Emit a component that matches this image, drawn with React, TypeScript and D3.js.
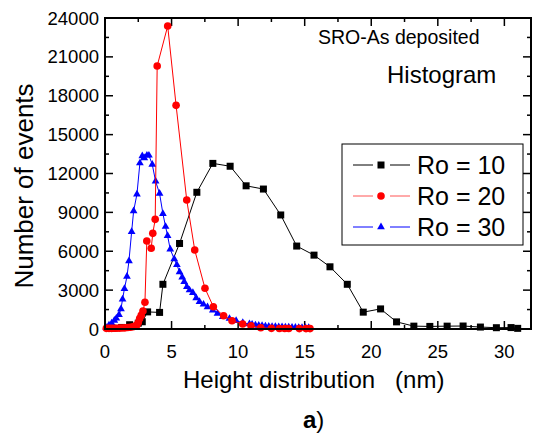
import { line, scaleLinear, symbol, symbolTriangle } from 'd3'

// Ro = 10 (black squares)
const ro10X = [0.6, 1.25, 1.85, 2.5, 2.8, 3.2, 4.1, 4.35, 5.6, 6.9, 8.1, 9.4, 10.6, 11.9, 13.2, 14.4, 15.7, 16.9, 18.2, 19.4, 20.7, 21.9, 23.2, 24.4, 25.7, 26.9, 28.2, 29.4, 30.5, 31.0]
const ro10Y = [60, 120, 330, 450, 560, 1320, 1280, 3450, 6600, 10550, 12780, 12560, 11050, 10800, 8800, 6400, 5700, 4800, 3450, 1300, 1550, 550, 220, 200, 220, 230, 150, 100, 110, 50]

// Ro = 20 (red circles)
const ro20X = [0.1, 0.3, 0.5, 0.7, 0.9, 1.1, 1.3, 1.5, 1.7, 1.9, 2.1, 2.25, 2.4, 2.5, 2.6, 2.72, 2.85, 3.0, 3.14, 3.47, 3.59, 3.77, 3.92, 4.71, 5.34, 6.14, 6.74, 7.51, 8.14, 8.91, 9.54, 10.34, 10.97, 11.7, 12.5, 13.1, 13.5, 13.8, 14.6, 15.1, 15.4]
const ro20Y = [50, 50, 50, 60, 60, 70, 80, 90, 110, 130, 170, 220, 300, 500, 800, 1050, 1380, 2060, 6790, 6230, 7380, 8460, 20300, 23380, 17260, 9950, 6100, 3140, 1720, 1020, 640, 390, 250, 100, 50, 40, 40, 40, 30, 30, 30]

// Ro = 30 (blue triangles)
const ro30X = [0.1, 0.3, 0.5, 0.7, 0.85, 1.05, 1.2, 1.32, 1.46, 1.65, 1.8, 2.0, 2.15, 2.4, 2.62, 2.8, 2.95, 3.15, 3.3, 3.55, 3.8, 4.1, 4.35, 4.55, 4.7, 4.9, 5.2, 5.4, 5.6, 5.8, 5.95, 6.15, 6.35, 6.6, 6.85, 7.1, 7.4, 7.7, 8.1, 8.45, 8.85, 9.35, 9.85, 10.35, 10.85, 11.05, 11.3, 11.55, 11.8, 12.05, 12.3, 12.55, 12.8, 13.05, 13.3, 13.55, 13.8, 14.05, 14.3, 14.55, 14.8, 15.05, 15.3]
const ro30Y = [100, 300, 450, 650, 820, 1100, 1550, 2300, 3100, 4050, 5250, 7500, 9100, 10400, 12800, 13350, 13200, 13400, 13400, 12700, 11400, 10450, 8900, 7900, 7200, 6150, 5400, 4950, 4400, 4000, 3650, 3250, 3000, 2800, 2400, 2100, 1900, 1700, 1450, 1200, 950, 800, 640, 480, 380, 350, 300, 270, 250, 220, 200, 180, 170, 160, 150, 140, 130, 120, 110, 105, 100, 95, 90]

const xTicks = [0, 5, 10, 15, 20, 25, 30]
const xMinorTicks = [2.5, 7.5, 12.5, 17.5, 22.5, 27.5]
const yTicks = [0, 3000, 6000, 9000, 12000, 15000, 18000, 21000, 24000]
const yMinorTicks = [1500, 4500, 7500, 10500, 13500, 16500, 19500, 22500]

const seriesNames = ['Ro = 10', 'Ro = 20', 'Ro = 30']

type Pt = { x: number; y: number }

const font = '"Liberation Sans", Arial, sans-serif'

function zip(xs: number[], ys: number[]): Pt[] {
  return xs.map((x, i) => ({ x, y: ys[i] }))
}

export default function App() {
  const width = 534
  const height = 434
  const left = 105
  const right = 531
  const top = 18
  const bottom = 329

  const xScale = scaleLinear().domain([0, 32]).range([left, right])
  const yScale = scaleLinear().domain([0, 24000]).range([bottom, top])
  const path = line<Pt>()
    .x((p) => xScale(p.x))
    .y((p) => yScale(p.y))

  const tri = symbol().type(symbolTriangle).size(26)() ?? ''

  const series = [
    { name: seriesNames[0], color: '#000000', legendLine: '#000000', points: zip(ro10X, ro10Y), kind: 'square' },
    { name: seriesNames[2], color: '#0000ff', legendLine: '#0000ff', points: zip(ro30X, ro30Y), kind: 'triangle' },
    { name: seriesNames[1], color: '#ff0000', legendLine: '#ff5555', points: zip(ro20X, ro20Y), kind: 'circle' },
  ]

  const marker = (kind: string, color: string, cx: number, cy: number, key: string | number) => {
    if (kind === 'square') {
      return <rect key={key} x={cx - 3.5} y={cy - 3.5} width={7} height={7} fill={color} />
    }
    if (kind === 'circle') {
      return <circle key={key} cx={cx} cy={cy} r={3.8} fill={color} />
    }
    return <path key={key} d={tri} transform={`translate(${cx},${cy})`} fill={color} />
  }

  const legendOrder = [series[0], series[2], series[1]]
  const legendRows = [165, 196, 227]

  return (
    <svg
      width={width}
      height={height}
      viewBox={`0 0 ${width} ${height}`}
      style={{ position: 'absolute', left: 0, top: 0, background: '#fff' }}
      fontFamily={font}
    >
      <rect x={0} y={0} width={width} height={height} fill="#fff" />

      {/* ticks, inward on all four sides */}
      {xTicks.map((t) => (
        <g key={`xt${t}`} stroke="#000" strokeWidth={1.5}>
          <line x1={xScale(t)} x2={xScale(t)} y1={bottom} y2={bottom - 8} />
          <line x1={xScale(t)} x2={xScale(t)} y1={top} y2={top + 8} />
        </g>
      ))}
      {xMinorTicks.map((t) => (
        <g key={`xm${t}`} stroke="#000" strokeWidth={1.5}>
          <line x1={xScale(t)} x2={xScale(t)} y1={bottom} y2={bottom - 4} />
          <line x1={xScale(t)} x2={xScale(t)} y1={top} y2={top + 4} />
        </g>
      ))}
      {yTicks.map((t) => (
        <g key={`yt${t}`} stroke="#000" strokeWidth={1.5}>
          <line x1={left} x2={left + 8} y1={yScale(t)} y2={yScale(t)} />
          <line x1={right} x2={right - 8} y1={yScale(t)} y2={yScale(t)} />
        </g>
      ))}
      {yMinorTicks.map((t) => (
        <g key={`ym${t}`} stroke="#000" strokeWidth={1.5}>
          <line x1={left} x2={left + 4} y1={yScale(t)} y2={yScale(t)} />
          <line x1={right} x2={right - 4} y1={yScale(t)} y2={yScale(t)} />
        </g>
      ))}

      {xTicks.map((t) => (
        <text key={`xl${t}`} x={xScale(t)} y={bottom + 29} fontSize={18.5} textAnchor="middle">
          {t}
        </text>
      ))}
      {yTicks.map((t) => (
        <text key={`yl${t}`} x={left - 6} y={yScale(t) + 6.5} fontSize={18.5} textAnchor="end">
          {t}
        </text>
      ))}

      {/* series */}
      {series.map((s) => (
        <g key={s.name}>
          <path d={path(s.points) ?? ''} fill="none" stroke={s.color} strokeWidth={1} />
          {s.points.map((p, i) => marker(s.kind, s.color, xScale(p.x), yScale(p.y), i))}
        </g>
      ))}

      <rect x={left} y={top} width={right - left} height={bottom - top} fill="none" stroke="#000" strokeWidth={2} />

      {/* legend */}
      <rect x={342} y={144} width={181} height={101} fill="#fff" stroke="#000" strokeWidth={1} />
      {legendOrder.map((s, i) => (
        <g key={`lg${s.name}`}>
          <line x1={353} x2={373} y1={legendRows[i]} y2={legendRows[i]} stroke={s.legendLine} strokeWidth={1} />
          <line x1={390} x2={410} y1={legendRows[i]} y2={legendRows[i]} stroke={s.legendLine} strokeWidth={1} />
          {marker(s.kind, s.color, 381, legendRows[i], 'm')}
          <text x={417} y={legendRows[i] + 9} fontSize={25}>
            {s.name}
          </text>
        </g>
      ))}

      <text x={318} y={44} fontSize={19.5}>
        SRO-As deposited
      </text>
      <text x={387} y={83} fontSize={24}>
        Histogram
      </text>

      <text x={183} y={388} fontSize={24} style={{ whiteSpace: 'pre' }}>
        {'Height distribution   (nm)'}
      </text>
      <text x={303} y={428} fontSize={24}>
        <tspan fontWeight="bold">a</tspan>)
      </text>

      <text transform="translate(33,186) rotate(-90)" fontSize={26} textAnchor="middle">
        Number of events
      </text>
    </svg>
  )
}
